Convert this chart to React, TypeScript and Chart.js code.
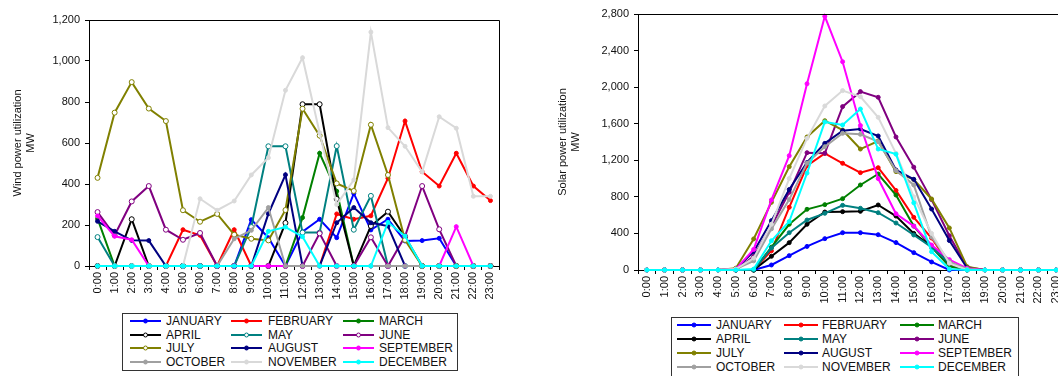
import React, { useEffect, useRef } from 'react';
import { Chart, registerables } from 'chart.js';
Chart.register(...registerables);

const HOURS = ['0:00','1:00','2:00','3:00','4:00','5:00','6:00','7:00','8:00','9:00','10:00','11:00','12:00','13:00','14:00','15:00','16:00','17:00','18:00','19:00','20:00','21:00','22:00','23:00'];
const MONTHS = ['JANUARY','FEBRUARY','MARCH','APRIL','MAY','JUNE','JULY','AUGUST','SEPTEMBER','OCTOBER','NOVEMBER','DECEMBER'];
const COLORS = ['#0000FF','#FF0000','#008000','#000000','#008080','#800080','#808000','#000080','#FF00FF','#A0A0A0','#D9D9D9','#00FFFF'];
const WIND_OPEN_MARKER = [false,false,false,true,true,true,true,false,false,false,false,false];
const WIND_TICKS = [0,200,400,600,800,1000,1200];
const SOLAR_TICKS = [0,400,800,1200,1600,2000,2400,2800];

// Wind power utilization (MW)
const windJanuary   = [0,0,0,0,0,0,0,0,0,226,138,0,167,228,138,354,176,228,122,124,135,0,0,0];
const windFebruary  = [0,0,0,0,0,177,150,0,177,0,0,0,0,0,254,228,245,428,707,460,390,550,390,319];
const windMarch     = [231,0,0,0,0,0,0,0,0,0,0,0,236,550,365,0,0,0,0,0,0,0,0,0];
const windApril     = [0,0,228,0,0,0,0,0,0,0,0,210,789,789,327,0,195,265,143,0,0,0,0,0];
const windMay       = [141,0,0,0,0,0,0,0,0,190,584,584,163,163,585,177,342,0,0,0,0,0,0,0];
const windJune      = [263,150,315,390,177,128,161,0,0,0,0,0,0,159,0,0,140,0,145,390,179,0,0,0];
const windJuly      = [430,748,897,768,707,272,216,254,153,133,125,273,767,636,403,366,689,444,127,0,0,0,0,0];
const windAugust    = [218,169,125,124,0,0,0,0,0,0,255,445,0,0,211,285,211,195,0,0,0,0,0,0];
const windSeptember = [244,145,128,0,0,0,0,0,0,0,0,0,0,0,0,0,0,0,0,0,0,192,0,0];
const windOctober   = [0,0,0,0,0,0,0,0,133,174,285,0,0,0,0,0,0,0,0,0,0,0,0,0];
const windNovember  = [0,0,0,0,0,0,328,272,317,444,528,857,1016,650,300,420,1141,675,584,459,728,672,340,340];
const windDecember  = [0,0,0,0,0,0,0,0,0,0,169,190,143,0,0,0,0,213,146,0,0,0,0,0];

// Solar power utilization (MW)
const solarJanuary   = [0,0,0,0,0,0,0,55,157,258,343,408,408,386,300,190,88,0,0,0,0,0,0,0];
const solarFebruary  = [0,0,0,0,0,0,0,210,686,1140,1276,1167,1065,1119,870,576,350,65,0,0,0,0,0,0];
const solarMarch     = [0,0,0,0,0,0,0,250,500,664,715,780,930,1050,820,480,250,40,0,0,0,0,0,0];
const solarApril     = [0,0,0,0,0,0,0,150,299,500,634,638,642,711,590,400,260,73,0,0,0,0,0,0];
const solarMay       = [0,0,0,0,0,0,0,240,408,547,620,707,675,627,514,383,250,78,0,0,0,0,0,0];
const solarJune      = [0,0,0,0,0,0,150,480,850,1283,1276,1787,1951,1889,1455,1125,770,375,30,0,0,0,0,0];
const solarJuly      = [0,0,0,0,0,20,340,740,1130,1455,1633,1531,1323,1411,1076,990,777,460,36,0,0,0,0,0];
const solarAugust    = [0,0,0,0,0,10,200,540,880,1176,1385,1524,1542,1466,1094,992,667,322,20,0,0,0,0,0];
const solarSeptember = [0,0,0,0,0,10,225,766,1250,2037,2775,2278,1580,1000,615,480,273,113,18,0,0,0,0,0];
const solarOctober   = [0,0,0,0,0,10,100,450,770,1170,1349,1495,1484,1404,1087,930,360,90,10,0,0,0,0,0];
const solarNovember  = [0,0,0,0,0,10,130,500,1000,1440,1794,1962,1896,1670,1276,800,400,73,0,0,0,0,0,0];
const solarDecember  = [0,0,0,0,0,0,10,320,530,1060,1619,1586,1761,1323,1267,735,200,10,0,0,0,0,0,0];

const WIND_SERIES = [windJanuary,windFebruary,windMarch,windApril,windMay,windJune,windJuly,windAugust,windSeptember,windOctober,windNovember,windDecember];
const SOLAR_SERIES = [solarJanuary,solarFebruary,solarMarch,solarApril,solarMay,solarJune,solarJuly,solarAugust,solarSeptember,solarOctober,solarNovember,solarDecember];

const FONT = 'Liberation Sans, Arial, Helvetica, sans-serif';

const framePlugin = {
  id: 'frame',
  afterDraw(chart: any) {
    const { ctx, chartArea } = chart;
    ctx.save();
    ctx.strokeStyle = '#000';
    ctx.lineWidth = 1;
    ctx.beginPath();
    ctx.moveTo(chartArea.left, chartArea.top + 0.5);
    ctx.lineTo(chartArea.right + 0.5, chartArea.top + 0.5);
    ctx.lineTo(chartArea.right + 0.5, chartArea.bottom);
    ctx.stroke();
    ctx.restore();
  },
};

function buildConfig(series: number[][], openMarkers: boolean[] | null, ticks: number[], title: string[], opts: any) {
  const datasets = series.map((data, i) => {
    const open = openMarkers ? openMarkers[i] : false;
    return {
      label: MONTHS[i],
      data,
      borderColor: COLORS[i],
      backgroundColor: COLORS[i],
      borderWidth: 2,
      pointRadius: open ? 2.5 : 2,
      pointBorderWidth: 1,
      pointBackgroundColor: open ? '#FFFFFF' : COLORS[i],
      pointBorderColor: COLORS[i],
      tension: 0,
      clip: false,
      order: series.length - i,
    };
  });
  return {
    type: 'line',
    data: { labels: HOURS, datasets },
    options: {
      responsive: false,
      animation: false,
      devicePixelRatio: 1,
      layout: { padding: opts.padding },
      plugins: { legend: { display: false }, tooltip: { enabled: false } },
      scales: {
        x: {
          type: 'category',
          offset: true,
          afterFit: (s: any) => { s.height = opts.xHeight; },
          grid: { offset: true, drawOnChartArea: false, drawTicks: true, tickLength: 4, color: '#000' },
          border: { display: true, color: '#000', width: 1 },
          ticks: { autoSkip: false, maxRotation: 90, minRotation: 90, padding: 2, color: '#111', font: { family: FONT, size: 11 } },
        },
        y: {
          min: ticks[0],
          max: ticks[ticks.length - 1],
          afterFit: (s: any) => { s.width = opts.yWidth; },
          afterBuildTicks: (s: any) => { s.ticks = ticks.map((v) => ({ value: v })); },
          grid: { drawOnChartArea: false, drawTicks: true, tickLength: 4, color: '#000' },
          border: { display: true, color: '#000', width: 1 },
          ticks: {
            padding: 5,
            color: '#111',
            font: { family: FONT, size: 11 },
            callback: (v: any) => Number(v).toLocaleString('en-US'),
          },
          title: {
            display: true,
            text: title,
            color: '#111',
            font: { family: FONT, size: 11, lineHeight: 1.2 },
            padding: { top: opts.titlePad, bottom: 0 },
          },
        },
      },
    },
    plugins: [framePlugin],
  };
}

function ChartCanvas({ left, top, width, height, config }: any) {
  const ref = useRef<HTMLCanvasElement>(null);
  useEffect(() => {
    if (!ref.current) return;
    const chart = new Chart(ref.current, config);
    return () => chart.destroy();
  }, []);
  return (
    <canvas
      ref={ref}
      width={width}
      height={height}
      style={{ position: 'absolute', left, top, width, height }}
    />
  );
}

function Legend({ box, openMarkers }: any) {
  return (
    <div
      style={{
        position: 'absolute',
        left: box.left,
        top: box.top,
        width: box.width,
        height: box.height,
        border: '1px solid #333',
        boxSizing: 'border-box',
        background: '#fff',
      }}
    >
      {MONTHS.map((m, i) => {
        const row = Math.floor(i / 3);
        const col = i % 3;
        const cy = box.rows[row] - 1;
        const open = openMarkers ? openMarkers[i] : false;
        return (
          <React.Fragment key={m}>
            <svg
              width={box.lineW}
              height={10}
              style={{ position: 'absolute', left: box.lineX[col], top: cy - 5 }}
            >
              <line x1={0} y1={5} x2={box.lineW} y2={5} stroke={COLORS[i]} strokeWidth={2} />
              <circle cx={box.lineW / 2} cy={5} r={2} fill={open ? '#fff' : COLORS[i]} stroke={COLORS[i]} strokeWidth={1} />
            </svg>
            <span
              style={{
                position: 'absolute',
                left: box.textX[col],
                top: cy - 7,
                fontFamily: FONT,
                fontSize: 12,
                lineHeight: '14px',
                color: '#111',
                whiteSpace: 'nowrap',
              }}
            >
              {m}
            </span>
          </React.Fragment>
        );
      })}
    </div>
  );
}

const windConfig = buildConfig(WIND_SERIES, WIND_OPEN_MARKER, WIND_TICKS, ['Wind power utilization', 'MW'], {
  padding: { top: 20, right: 11, left: 0, bottom: 0 },
  xHeight: 44,
  yWidth: 89,
  titlePad: 11.4,
});

const solarConfig = buildConfig(SOLAR_SERIES, null, SOLAR_TICKS, ['Solar power utilization', 'MW'], {
  padding: { top: 14, right: 15, left: 0, bottom: 0 },
  xHeight: 40,
  yWidth: 98,
  titlePad: 16.4,
});

const windLegendBox = { left: 122, top: 313, width: 336, height: 58, rows: [8, 21.5, 35, 48.5], lineX: [7, 108, 220], lineW: 31, textX: [43, 145, 256] };
const solarLegendBox = { left: 671, top: 317, width: 348, height: 62, rows: [8, 22, 36, 50], lineX: [5, 112, 228], lineW: 34, textX: [44, 150, 266] };

export default function App() {
  return (
    <div style={{ position: 'absolute', left: 0, top: 0, width: 1058, height: 376, overflow: 'hidden', background: '#fff' }}>
      <ChartCanvas left={0} top={0} width={510} height={310} config={windConfig} />
      <ChartCanvas left={540} top={0} width={540} height={310} config={solarConfig} />
      <Legend box={windLegendBox} openMarkers={WIND_OPEN_MARKER} />
      <Legend box={solarLegendBox} openMarkers={null} />
    </div>
  );
}
